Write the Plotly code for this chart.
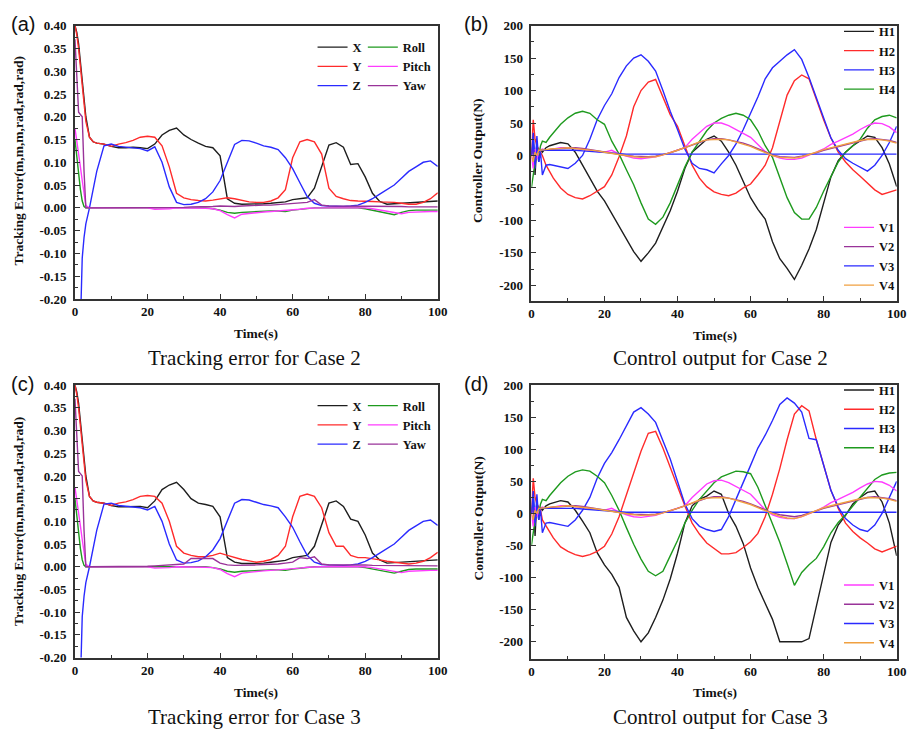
import plotly.graph_objects as go

W, H = 919, 739

# ---------------- data ----------------
T = [0, 0.5, 1, 1.5, 2, 2.5, 3, 4, 5, 6,
     8, 10, 12, 14, 16, 18, 20, 22, 24, 26,
     28, 30, 32, 34, 36, 38, 40, 42, 44, 46,
     48, 50, 52, 54, 56, 58, 60, 62, 64, 66,
     68, 70, 72, 74, 76, 78, 80, 82, 84, 86,
     88, 90, 92, 94, 96, 98, 100]

# Panel (a): tracking error, case 2
a_X = [0.40, 0.385, 0.36, 0.32, 0.28, 0.24, 0.20, 0.155, 0.145, 0.142,
       0.14, 0.135, 0.132, 0.132, 0.133, 0.132, 0.13, 0.14, 0.16, 0.17,
       0.175, 0.16, 0.15, 0.142, 0.135, 0.132, 0.114, 0.02, 0.01, 0.008,
       0.008, 0.008, 0.009, 0.01, 0.012, 0.013, 0.018, 0.02, 0.022, 0.043,
       0.09, 0.138, 0.143, 0.133, 0.095, 0.097, 0.068, 0.032, 0.014, 0.008,
       0.009, 0.01, 0.011, 0.011, 0.012, 0.013, 0.015]
a_Y = [0.40, 0.38, 0.35, 0.31, 0.27, 0.23, 0.19, 0.155, 0.145, 0.142,
       0.14, 0.135, 0.14, 0.143, 0.148, 0.155, 0.157, 0.155, 0.136, 0.09,
       0.032, 0.022, 0.018, 0.016, 0.015, 0.017, 0.02, 0.022, 0.02, 0.016,
       0.013, 0.012, 0.012, 0.015, 0.022, 0.04, 0.11, 0.145, 0.15, 0.145,
       0.118, 0.043, 0.025, 0.02, 0.016, 0.015, 0.015, 0.014, 0.013, 0.013,
       0.012, 0.01, 0.008, 0.008, 0.012, 0.02, 0.033]
a_Z = [-0.7, -0.55, -0.4, -0.22, -0.11, -0.065, -0.035, 0.0, 0.04, 0.08,
       0.136, 0.14, 0.135, 0.133, 0.132, 0.13, 0.125, 0.134, 0.1, 0.046,
       0.012, 0.007, 0.008, 0.012, 0.02, 0.035, 0.06, 0.1, 0.139, 0.148,
       0.147, 0.142, 0.136, 0.133, 0.128, 0.11, 0.086, 0.055, 0.025, 0.01,
       0.005, 0.004, 0.003, 0.003, 0.004, 0.006, 0.012, 0.02, 0.03, 0.04,
       0.05, 0.065, 0.08, 0.09, 0.1, 0.103, 0.091]
a_Roll = [0.15, 0.11, 0.07, 0.04, 0.015, 0.003, 0.0, 0.0, 0.0, 0.0,
          0, 0, 0, 0, 0, 0, 0, 0, 0, 0,
          0, 0, 0, 0, 0, -0.002, -0.005, -0.01, -0.012, -0.01,
          -0.009, -0.008, -0.007, -0.007, -0.007, -0.008, -0.005, -0.003, -0.002, 0,
          0, 0, 0, 0, 0, 0, -0.002, -0.005, -0.008, -0.012,
          -0.015, -0.01, -0.006, -0.005, -0.005, -0.005, -0.005]
a_Pitch = [0.175, 0.15, 0.12, 0.09, 0.06, 0.03, 0.005, 0, 0, 0,
           0, 0, 0, 0, 0, 0, 0, -0.003, -0.003, -0.002,
           0, 0, 0, 0, -0.001, -0.002, -0.006, -0.015, -0.022, -0.014,
           -0.012, -0.01, -0.009, -0.008, -0.007, -0.006, -0.005, -0.003, -0.001, 0,
           0, 0, 0, 0, 0, 0, 0, -0.002, -0.005, -0.008,
           -0.01, -0.013, -0.01, -0.009, -0.008, -0.008, -0.008]
a_Yaw = [0.37, 0.3, 0.21, 0.205, 0.2, 0.08, 0.0, 0, 0, 0,
         0, 0, 0, 0, 0, 0, 0, 0, 0, 0,
         0.001, 0.001, 0.002, 0.002, 0.003, 0.003, 0.004, 0.003, 0.003, 0.004,
         0.005, 0.005, 0.006, 0.006, 0.007, 0.008, 0.009, 0.01, 0.012, 0.018,
         0.006, 0.004, 0.004, 0.004, 0.004, 0.004, 0.004, 0.003, 0.003, 0.003,
         0.003, 0.003, 0.002, 0.002, 0.002, 0.002, 0.002]

# Panel (c): tracking error, case 3
c_X = [0.40, 0.385, 0.36, 0.32, 0.28, 0.24, 0.20, 0.155, 0.145, 0.142,
       0.14, 0.135, 0.132, 0.132, 0.133, 0.133, 0.13, 0.145, 0.17, 0.18,
       0.186, 0.17, 0.15, 0.14, 0.137, 0.133, 0.11, 0.02, 0.01, 0.007,
       0.007, 0.007, 0.008, 0.01, 0.012, 0.014, 0.02, 0.022, 0.025, 0.045,
       0.095, 0.14, 0.145, 0.133, 0.105, 0.1, 0.07, 0.03, 0.015, 0.008,
       0.009, 0.01, 0.01, 0.011, 0.012, 0.013, 0.015]
c_Y = [0.40, 0.38, 0.35, 0.31, 0.27, 0.23, 0.19, 0.155, 0.145, 0.142,
       0.14, 0.135, 0.14, 0.143, 0.148, 0.155, 0.157, 0.155, 0.14, 0.1,
       0.045, 0.03, 0.025, 0.022, 0.022, 0.025, 0.03, 0.025, 0.02, 0.016,
       0.013, 0.01, 0.012, 0.016, 0.025, 0.045, 0.11, 0.155, 0.16, 0.155,
       0.13, 0.075, 0.045, 0.045, 0.025, 0.02, 0.02, 0.018, 0.015, 0.012,
       0.01, 0.007, 0.006, 0.008, 0.012, 0.02, 0.032]
c_Z = [-0.7, -0.55, -0.4, -0.22, -0.11, -0.065, -0.035, 0.0, 0.04, 0.08,
       0.138, 0.14, 0.135, 0.133, 0.132, 0.13, 0.125, 0.133, 0.1, 0.05,
       0.015, 0.008, 0.009, 0.013, 0.022, 0.037, 0.062, 0.1, 0.14, 0.148,
       0.147, 0.142, 0.137, 0.134, 0.13, 0.11, 0.087, 0.055, 0.025, 0.01,
       0.005, 0.004, 0.003, 0.003, 0.004, 0.006, 0.012, 0.02, 0.03, 0.04,
       0.05, 0.065, 0.08, 0.09, 0.1, 0.103, 0.091]
c_Roll = [0.15, 0.11, 0.07, 0.04, 0.015, 0.003, 0.0, 0.0, 0.0, 0.0,
          0, 0, 0, 0, 0, 0, 0, 0, 0, 0,
          0, 0, 0, 0, 0, -0.002, -0.005, -0.01, -0.012, -0.01,
          -0.009, -0.008, -0.007, -0.007, -0.007, -0.008, -0.005, -0.003, -0.002, 0,
          0, 0, 0, 0, 0, 0, -0.002, -0.005, -0.008, -0.012,
          -0.014, -0.01, -0.006, -0.005, -0.005, -0.005, -0.005]
c_Pitch = [0.175, 0.15, 0.12, 0.09, 0.06, 0.03, 0.005, 0, 0, 0,
           0, 0, 0, 0, 0, 0, 0, -0.003, -0.003, -0.002,
           0, 0, 0, 0, -0.001, -0.002, -0.006, -0.015, -0.022, -0.014,
           -0.012, -0.01, -0.009, -0.008, -0.007, -0.006, -0.005, -0.003, -0.001, 0,
           0, 0, 0, 0, 0, 0, 0, -0.002, -0.005, -0.008,
           -0.01, -0.013, -0.01, -0.009, -0.008, -0.008, -0.008]
c_Yaw = [0.37, 0.3, 0.21, 0.205, 0.2, 0.08, 0.0, 0, 0, 0,
         0, 0, 0, 0, 0, 0, 0.001, 0.002, 0.003, 0.004,
         0.005, 0.006, 0.018, 0.018, 0.018, 0.018, 0.008, 0.004, 0.003, 0.003,
         0.004, 0.004, 0.005, 0.005, 0.006, 0.008, 0.01, 0.02, 0.018, 0.022,
         0.006, 0.004, 0.004, 0.005, 0.005, 0.005, 0.004, 0.003, 0.003, 0.003,
         0.003, 0.003, 0.002, 0.002, 0.002, 0.002, 0.002]

# Panel (b): controller output, case 2
b_H1 = [0, 30, -30, 20, -10, 10, 5, 12, 15, 17,
        20, 18, 5, -15, -35, -55, -70, -90, -110, -128,
        -148, -163, -150, -135, -110, -85, -55, -20, 5, 15,
        25, 30, 22, 5, -15, -40, -65, -83, -98, -133,
        -159, -174, -191, -169, -144, -114, -73, -33, -8, 5,
        15, 22, 30, 28, 12, -13, -48]
b_H2 = [0, 55, 25, 15, 10, 5, 0, -15, -25, -35,
        -50, -60, -65, -67, -62, -55, -48, -30, -2, 30,
        75, 100, 113, 117, 90, 63, 45, 15, -15, -35,
        -48, -56, -60, -62, -58, -50, -44, -30, -15, 12,
        53, 93, 115, 124, 118, 85, 55, 27, 5, -10,
        -22, -32, -43, -53, -60, -57, -53]
b_H3 = [0, 35, -20, 30, -10, 5, -30, -15, -14, -15,
        -18, -20, -12, 0, 25, 55, 77, 95, 120, 138,
        150, 155, 145, 130, 100, 68, 40, 10, -12, -20,
        -22, -27, -13, 0, 18, 40, 65, 90, 118, 135,
        145, 155, 163, 148, 120, 88, 58, 27, 8, -5,
        -12, -18, -24, -15, 0, 20, 45]
b_H4 = [-50, -30, -10, 10, 0, 15, 22, 20, 28, 35,
        48, 58, 65, 68, 65, 55, 48, 22, 2, -22,
        -45, -73, -98, -106, -95, -73, -45, -18, 5, 22,
        38, 50, 57, 62, 65, 62, 55, 38, 15, -3,
        -35, -65, -88, -98, -98, -80, -55, -32, -10, 5,
        15, 25, 42, 55, 60, 62, 58]
b_V1 = [0, -20, 10, -5, 5, 8, 10, 8, 9, 10,
        12, 12, 11, 10, 8, 6, 5, 8, 2, -1,
        -4, -5, -4, -2, 1, 5, 8, 12, 25, 35,
        45, 50, 50, 46, 40, 34, 28, 17, 6, 0,
        -4, -6, -6, -4, 0, 5, 10, 17, 22, 27,
        33, 40, 46, 50, 49, 44, 35]
b_V2 = [0, 10, -10, 8, 5, 8, 8, 8, 9, 10,
        11, 12, 12, 11, 9, 7, 5, 4, 2, 0,
        -1, -2, -2, -1, 1, 4, 8, 12, 16, 20,
        24, 26, 26, 24, 22, 19, 15, 10, 5, 1,
        -2, -3, -3, -1, 1, 4, 8, 11, 14, 17,
        20, 23, 25, 26, 25, 23, 20]
b_V3 = [0, 20, -15, 10, 5, 8, 8, 8, 8, 9,
        9, 9, 8, 7, 6, 5, 4, 3, 3, 2,
        2, 2, 2, 2, 2, 2, 2, 2, 2, 1,
        1, 1, 1, 1, 1, 1, 1, 1, 1, 1,
        1, 1, 1, 1, 1, 2, 2, 2, 2, 2,
        1, 1, 1, 1, 2, 2, 2]
b_V4 = [0, -10, 5, 0, 8, 8, 9, 9, 10, 10,
        11, 12, 11, 10, 9, 7, 5, 3, 1, -1,
        -2, -3, -3, -2, 1, 4, 8, 12, 17, 21,
        24, 25, 25, 24, 21, 18, 14, 9, 4, 0,
        -3, -4, -4, -2, 1, 5, 9, 12, 15, 18,
        21, 23, 25, 25, 24, 22, 19]

# Panel (d): controller output, case 3
d_H1 = [0, 30, -35, 20, -10, 10, 5, 12, 15, 17,
        20, 18, 5, -12, -30, -61, -80, -95, -115, -162,
        -183, -200, -186, -162, -135, -102, -62, -15, 12, 22,
        27, 35, 30, 0, -20, -47, -85, -115, -140, -165,
        -200, -200, -200, -200, -195, -145, -90, -45, -18, -3,
        15, 25, 33, 35, 18, -15, -66]
d_H2 = [0, 55, 25, 15, 10, 5, -10, -20, -30, -38,
        -52, -59, -64, -67, -64, -59, -51, -32, -5, 30,
        65, 97, 125, 128, 102, 72, 40, 12, -15, -32,
        -46, -55, -63, -63, -61, -53, -44, -31, -5, 30,
        70, 115, 155, 168, 160, 115, 75, 36, 8, -15,
        -28, -38, -46, -55, -60, -55, -51]
d_H3 = [0, 35, -20, 30, -10, 5, -30, -15, -14, -15,
        -18, -20, -10, 5, 25, 55, 78, 95, 115, 137,
        158, 165, 155, 142, 115, 85, 50, 15, -8, -20,
        -25, -28, -25, -5, 22, 50, 75, 102, 122, 145,
        170, 180, 172, 158, 117, 115, 77, 36, 10, -8,
        -18, -25, -28, -18, 0, 25, 50]
d_H4 = [-50, -30, -10, 10, 0, 15, 22, 20, 28, 35,
        48, 58, 65, 68, 66, 58, 48, 28, 5, -22,
        -48, -71, -90, -97, -90, -66, -42, -15, 5, 22,
        35, 48, 57, 62, 66, 65, 62, 41, 12, -15,
        -45, -78, -112, -92, -80, -70, -52, -30, -14, -2,
        12, 25, 40, 53, 60, 63, 64]
d_V1 = [0, -20, 10, -5, 5, 8, 10, 8, 9, 10,
        12, 12, 11, 10, 8, 6, 5, 8, 2, -2,
        -5, -6, -5, -3, 1, 5, 8, 12, 25, 36,
        46, 51, 52, 48, 42, 36, 30, 18, 6, -2,
        -6, -8, -8, -5, -1, 4, 10, 17, 22, 27,
        33, 40, 46, 50, 49, 44, 35]
d_V2 = [0, 10, -10, 8, 5, 8, 8, 8, 9, 10,
        11, 12, 12, 11, 9, 7, 5, 4, 2, 0,
        -1, -2, -2, -1, 1, 4, 8, 12, 16, 20,
        24, 26, 26, 24, 22, 19, 15, 10, 5, 1,
        -2, -4, -5, -3, 0, 4, 8, 11, 14, 17,
        20, 23, 25, 26, 25, 23, 20]
d_V3 = [0, 20, -15, 10, 5, 8, 8, 8, 8, 9,
        9, 9, 8, 7, 6, 5, 4, 3, 3, 2,
        2, 2, 2, 2, 2, 2, 2, 2, 2, 1,
        1, 1, 1, 1, 1, 1, 1, 1, 1, 1,
        1, 1, 1, 1, 1, 2, 2, 2, 2, 2,
        1, 1, 1, 1, 2, 2, 2]
d_V4 = [0, -10, 5, 0, 8, 8, 9, 9, 10, 10,
        11, 12, 11, 10, 9, 7, 5, 3, 1, -1,
        -2, -3, -3, -2, 1, 4, 8, 12, 17, 21,
        24, 25, 25, 24, 21, 18, 14, 9, 4, 0,
        -4, -7, -8, -5, 0, 5, 9, 12, 15, 18,
        21, 23, 25, 25, 24, 22, 19]

ERR_TICKS = [-0.20, -0.15, -0.10, -0.05, 0.00, 0.05, 0.10, 0.15, 0.20, 0.25, 0.30, 0.35, 0.40]
ERR_TICKTEXT = ["-0.20", "-0.15", "-0.10", "-0.05", "0.00", "0.05", "0.10", "0.15",
                "0.20", "0.25", "0.30", "0.35", "0.40"]
OUT_TICKS = [-200, -150, -100, -50, 0, 50, 100, 150, 200]
OUT_TICKTEXT = ["-200", "-150", "-100", "-50", "0", "50", "100", "150", "200"]
TIME_TICKS = [0, 20, 40, 60, 80, 100]

ERR_NAMES_1 = ["X", "Y", "Z"]
ERR_NAMES_2 = ["Roll", "Pitch", "Yaw"]
OUT_NAMES_H = ["H1", "H2", "H3", "H4"]
OUT_NAMES_V = ["V1", "V2", "V3", "V4"]

CAPTIONS = ["Tracking error for Case 2", "Control output for Case 2",
            "Tracking error for Case 3", "Control output for Case 3"]
PANEL_LABELS = ["(a)", "(b)", "(c)", "(d)"]

# ---------------- style ----------------
BLACK = "#1e1e1e"
RED = "#ff2b2b"
BLUE = "#2a2aff"
GREEN = "#1e9a1e"
MAGENTA = "#ff3cff"
PURPLE = "#993399"
ORANGE = "#f0a040"
SERIF = "Liberation Serif"
SANS = "Liberation Sans"

for arr in [a_X, a_Y, a_Z, a_Roll, a_Pitch, a_Yaw, c_X, c_Y, c_Z, c_Roll, c_Pitch, c_Yaw,
            b_H1, b_H2, b_H3, b_H4, b_V1, b_V2, b_V3, b_V4,
            d_H1, d_H2, d_H3, d_H4, d_V1, d_V2, d_V3, d_V4]:
    assert len(arr) == len(T), len(arr)


def px_x(p):
    return p / W


def px_y(p):
    return 1 - p / H


fig = go.Figure()


def add(xa, ya, name, vals, color, legend):
    fig.add_trace(go.Scatter(x=T, y=vals, name=name, mode="lines",
                             line=dict(color=color, width=1.4),
                             xaxis=xa, yaxis=ya, legend=legend))


# (a)
for n, v, c in zip(ERR_NAMES_1, [a_X, a_Y, a_Z], [BLACK, RED, BLUE]):
    add("x", "y", n, v, c, "legend")
for n, v, c in zip(ERR_NAMES_2, [a_Roll, a_Pitch, a_Yaw], [GREEN, MAGENTA, PURPLE]):
    add("x", "y", n, v, c, "legend2")
# (b)
for n, v, c in zip(OUT_NAMES_H, [b_H1, b_H2, b_H3, b_H4], [BLACK, RED, BLUE, GREEN]):
    add("x2", "y2", n, v, c, "legend3")
for n, v, c in zip(OUT_NAMES_V, [b_V1, b_V2, b_V3, b_V4], [MAGENTA, PURPLE, BLUE, ORANGE]):
    add("x2", "y2", n, v, c, "legend4")
# (c)
for n, v, c in zip(ERR_NAMES_1, [c_X, c_Y, c_Z], [BLACK, RED, BLUE]):
    add("x3", "y3", n, v, c, "legend5")
for n, v, c in zip(ERR_NAMES_2, [c_Roll, c_Pitch, c_Yaw], [GREEN, MAGENTA, PURPLE]):
    add("x3", "y3", n, v, c, "legend6")
# (d)
for n, v, c in zip(OUT_NAMES_H, [d_H1, d_H2, d_H3, d_H4], [BLACK, RED, BLUE, GREEN]):
    add("x4", "y4", n, v, c, "legend7")
for n, v, c in zip(OUT_NAMES_V, [d_V1, d_V2, d_V3, d_V4], [MAGENTA, PURPLE, BLUE, ORANGE]):
    add("x4", "y4", n, v, c, "legend8")

tickfont = dict(family=SERIF, size=13, color="#111", weight="bold")
axcommon = dict(showline=True, linecolor="#333", linewidth=1.5, mirror=True,
                showgrid=False, zeroline=False, ticks="inside", ticklen=5,
                tickwidth=1.2, tickcolor="#333", tickfont=tickfont)


def xaxis(domain, anchor):
    return dict(domain=domain, anchor=anchor, range=[0, 100], tickvals=TIME_TICKS,
                minor=dict(ticks="inside", ticklen=3, dtick=10, tickcolor="#333"),
                **axcommon)


def erry(domain, anchor):
    return dict(domain=domain, anchor=anchor, range=[-0.20, 0.40],
                tickvals=ERR_TICKS, ticktext=ERR_TICKTEXT, ticklabelstandoff=4,
                minor=dict(ticks="inside", ticklen=3, dtick=0.025, tickcolor="#333"),
                **axcommon)


def outy(domain, anchor, lo):
    return dict(domain=domain, anchor=anchor, range=[lo, 200],
                tickvals=OUT_TICKS, ticktext=OUT_TICKTEXT, ticklabelstandoff=4,
                minor=dict(ticks="inside", ticklen=3, dtick=25, tickcolor="#333"),
                **axcommon)


xa_dom = [px_x(73), px_x(441)]
xb_dom = [px_x(536), px_x(906.5)]
ya_dom = [px_y(298), px_y(19)]
yb_dom = [px_y(300), px_y(19)]
yc_dom = [px_y(664), px_y(386)]
yd_dom = [px_y(665), px_y(386)]

legfont = dict(family=SERIF, size=12.5, color="#111", weight="bold")


def leg(xp, yp):
    return dict(x=px_x(xp), y=px_y(yp), xanchor="left", yanchor="top",
                bgcolor="rgba(0,0,0,0)", borderwidth=0, font=legfont,
                tracegroupgap=0)


annotations = []
# panel labels
for lab, (xp, yp) in zip(PANEL_LABELS, [(20, 17), (480, 17), (20, 385), (480, 385)]):
    annotations.append(dict(text=lab, x=px_x(xp), y=px_y(yp), xref="paper", yref="paper",
                            showarrow=False, xanchor="center", yanchor="middle",
                            font=dict(family=SANS, size=20, color="#111")))
# captions
for cap, (xp, yp) in zip(CAPTIONS, [(255, 358), (728, 358), (255, 725), (728, 725)]):
    annotations.append(dict(text=cap, x=px_x(xp), y=px_y(yp), xref="paper", yref="paper",
                            showarrow=False, xanchor="center", yanchor="middle",
                            font=dict(family=SERIF, size=21, color="#111")))
# x titles
for (xp, yp) in [(257, 333), (722, 335), (257, 700), (722, 700)]:
    annotations.append(dict(text="Time(s)", x=px_x(xp), y=px_y(yp), xref="paper", yref="paper",
                            showarrow=False, xanchor="center", yanchor="middle",
                            font=dict(family=SERIF, size=13.5, color="#111", weight="bold")))
# y titles
for txt, (xp, yp) in [("Tracking Error(m,m,m,rad,rad,rad)", (16, 157)),
                      ("Controller Output(N)", (482, 157)),
                      ("Tracking Error(m,m,m,rad,rad,rad)", (16, 525)),
                      ("Controller Output(N)", (482, 522))]:
    annotations.append(dict(text=txt, x=px_x(xp), y=px_y(yp), xref="paper", yref="paper",
                            showarrow=False, xanchor="center", yanchor="middle", textangle=-90,
                            font=dict(family=SERIF, size=13.5, color="#111", weight="bold")))

fig.update_layout(
    width=W, height=H, margin=dict(l=0, r=0, t=0, b=0),
    paper_bgcolor="white", plot_bgcolor="white",
    xaxis=xaxis(xa_dom, "y"), yaxis=erry(ya_dom, "x"),
    xaxis2=xaxis(xb_dom, "y2"), yaxis2=outy(yb_dom, "x2", -224),
    xaxis3=xaxis(xa_dom, "y3"), yaxis3=erry(yc_dom, "x3"),
    xaxis4=xaxis(xb_dom, "y4"), yaxis4=outy(yd_dom, "x4", -226),
    legend=leg(314, 26), legend2=leg(365, 26),
    legend3=leg(848, 10), legend4=leg(848, 210),
    legend5=leg(314, 392), legend6=leg(365, 392),
    legend7=leg(848, 376), legend8=leg(848, 575),
    annotations=annotations,
    showlegend=True,
)

fig.write_html("out.html")
